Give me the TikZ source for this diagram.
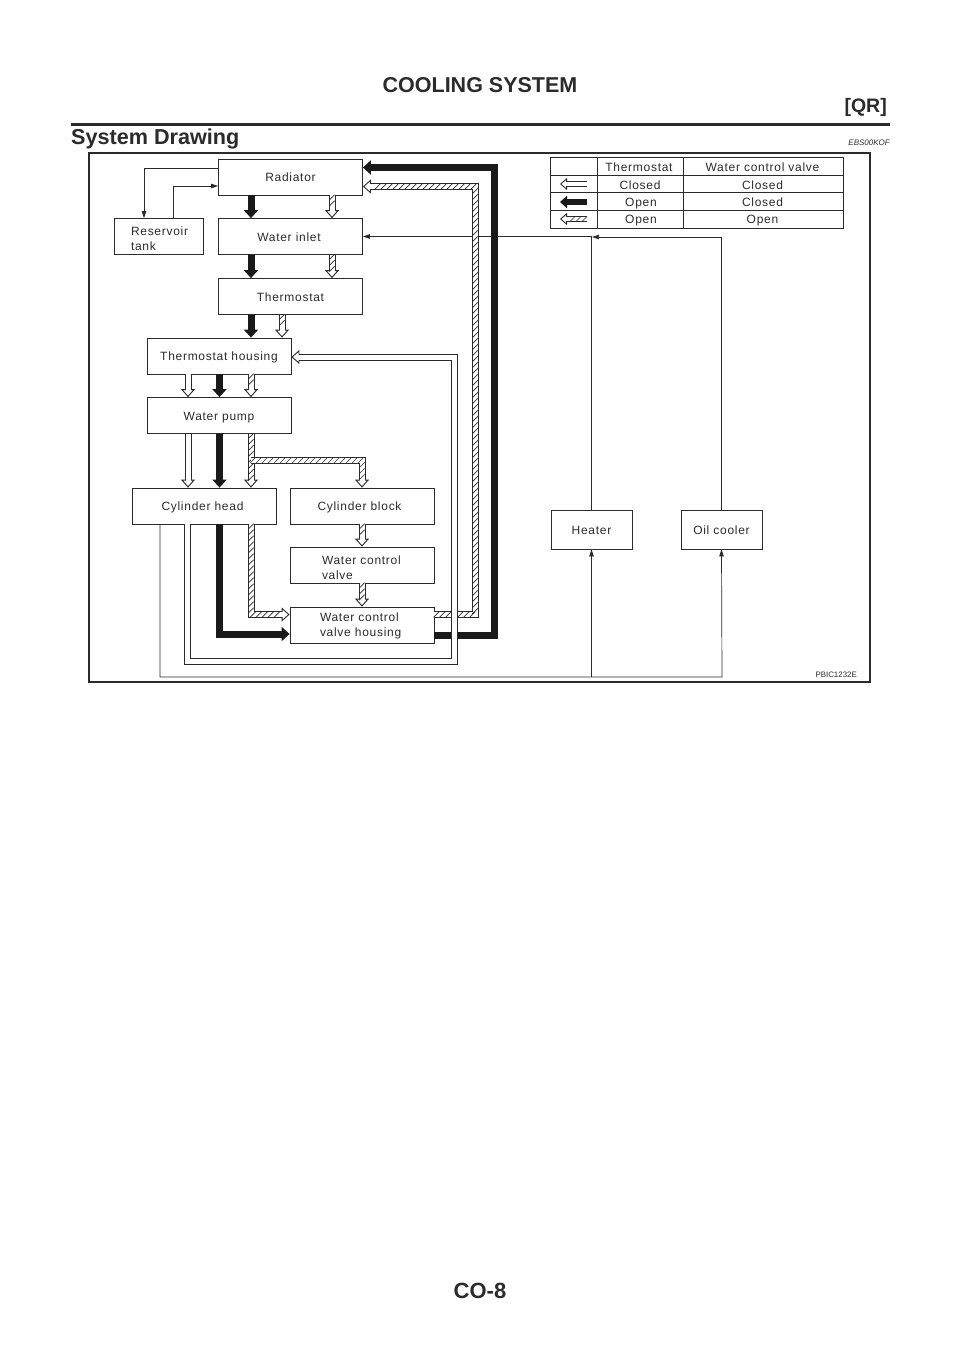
\documentclass[tikz,border=0pt]{standalone}
\usepackage{fontspec}
\setmainfont{Liberation Sans}
\newfontfamily\labfont[LetterSpace=6]{Liberation Sans}
\usetikzlibrary{arrows.meta,decorations.markings,calc}
\definecolor{ink}{HTML}{2B2B2B}
\definecolor{solid}{HTML}{1A1A1A}
\tikzset{
  multibox/.style={draw=ink,line width=.8pt,fill=white,minimum width=144pt,minimum height=36pt,inner sep=0pt,font=\labfont\fontsize{12}{15}\selectfont,text=ink},
  box/.style={multibox,text height=9pt,text depth=0pt},
  smallbox/.style={box,minimum width=81pt,minimum height=39pt},
  cell/.style={inner sep=0pt,font=\labfont\fontsize{12}{13}\selectfont,text=ink,text height=9pt,text depth=0pt},
  thinline/.style={draw=ink,line width=.7pt,line join=miter},
  thinarrow/.style={thinline,-{Triangle[length=7pt,width=4.5pt]}},
  blackflow/.style n args={3}{draw=solid,line width=#1,line join=miter,-{Triangle[length=#3,width=#2]}},
  hollowflow/.style n args={3}{draw=ink,line width=#1,line join=miter,
    -{Triangle[open,fill=white,length=#3,width=#2,line width=.9pt]},
    postaction={draw=white,line width=#1-2pt,arrows=-,shorten >=#3-1.5pt}},
  hatchflow/.style n args={3}{hollowflow={#1}{#2}{#3},
    postaction={decorate,decoration={markings,
      mark=between positions 2pt and -#3-1pt step 6pt with {\pgftransformresetnontranslations
        \draw[draw=ink,line width=.6pt,arrows=-] (-#1/2+.8pt,-#1/2+.8pt)--(#1/2-.8pt,#1/2-.8pt);}}}},
  solidarrow/.style={blackflow={7pt}{14pt}{8pt}},
  hollowarrow/.style={hollowflow={7pt}{14pt}{8pt}},
  hatcharrow/.style={hatchflow={7pt}{14pt}{8pt}},
}
\begin{document}
\begin{tikzpicture}[x=1pt,y=-1pt]
\useasboundingbox (0,0) rectangle (960,1358);
% page furniture
\node[inner sep=0pt,font=\bfseries\fontsize{21.5}{24}\selectfont,text=ink] (pagehead) at (480,85) {COOLING SYSTEM};
\node[inner sep=0pt,anchor=east,font=\bfseries\fontsize{19.5}{24}\selectfont,text=ink] (qr) at (887,107) {[QR]};
\coordinate (ruleL) at (71,124); \coordinate (ruleR) at (890,124);
\draw[draw=ink,line width=3pt] (ruleL) -- (ruleR);
\node[inner sep=0pt,anchor=west,font=\bfseries\fontsize{21.6}{26}\selectfont,text=ink] (title) at (71,138.5) {System Drawing};
\node[inner sep=0pt,anchor=east,font=\itshape\fontsize{8}{9}\selectfont,text=ink] (code) at (890,143) {EBS00KOF};
\node[inner sep=0pt,font=\bfseries\fontsize{22}{26}\selectfont,text=ink] (pagefoot) at (480,1291) {CO-8};
\node[draw=ink,line width=1.6pt,minimum width=781pt,minimum height=529pt,inner sep=0pt] (frame) at (479.5,417.5) {};
\node[inner sep=0pt,anchor=east,font=\fontsize{7.9}{9}\selectfont,text=ink] (pbic) at (857,675) {PBIC1232E};

% boxes
\node[box] (rad) at (290.5,177) {Radiator};
\node[box] (inlet) at (290.5,236.5) {Water inlet\kern3pt};
\node[box] (therm) at (290.5,296.5) {Thermostat};
\node[box] (thhouse) at (219,356) {Thermostat housing};
\node[box] (pump) at (219,415.5) {Water pump};
\node[box] (chead) at (204.5,506) {Cylinder head\kern4pt};
\node[box] (cblock) at (362,506) {Cylinder block\kern5pt};
\node[multibox,text width=80pt,align=left] (valve) at (362,565) {\rule{0pt}{14.6pt}Water control\\valve};
\node[multibox,text width=84pt,align=left] (vhouse) at (362,625) {\rule{0pt}{10pt}Water control\\valve housing};
\node[multibox,minimum width=89pt,text width=55pt,align=left] (tank) at (158.5,236.5) {\rule{0pt}{12.6pt}Reservoir\\tank};
\node[smallbox] (heater) at (591.5,529.5) {Heater};
\node[smallbox] (oil) at (721.5,529.5) {Oil cooler};

% thin connectors
\draw[thinarrow] (rad.west |- 0,168) -| (144,0 |- tank.north);
\draw[thinarrow] (173,0 |- tank.north) |- (rad.west |- 0,186);
\draw[thinarrow] (heater.north) |- (inlet.east);
\draw[thinarrow] (oil.north) |- (592,237);
\draw[thinarrow] (160,0 |- chead.south) |- (722,677) -- (oil.south);
\draw[thinarrow] (heater.south |- 0,677) -- (heater.south);

% main return flows
\draw[hatcharrow] (vhouse.east |- 0,614.5) -| (475,186.5) -- (rad.east |- 0,186.5);
\draw[solidarrow] (vhouse.east |- 0,635) -| (494,167.5) -- (rad.east |- 0,167.5);
\draw[hollowarrow] (187.5,0 |- chead.south) |- (454.5,661) |- (thhouse.east |- 0,357);

% vertical flows
\draw[solidarrow] (251,0 |- rad.south) -- (251,0 |- inlet.north);
\draw[hatcharrow] (332,0 |- rad.south) -- (332,0 |- inlet.north);
\draw[solidarrow] (251,0 |- inlet.south) -- (251,0 |- therm.north);
\draw[hatcharrow] (332,0 |- inlet.south) -- (332,0 |- therm.north);
\draw[solidarrow] (251,0 |- therm.south) -- (251,0 |- thhouse.north);
\draw[hatcharrow] (282,0 |- therm.south) -- (282,0 |- thhouse.north);
\draw[hollowarrow] (188,0 |- thhouse.south) -- (188,0 |- pump.north);
\draw[solidarrow] (219.5,0 |- thhouse.south) -- (219.5,0 |- pump.north);
\draw[hatcharrow] (251,0 |- thhouse.south) -- (251,0 |- pump.north);
\draw[hollowarrow] (188,0 |- pump.south) -- (188,0 |- chead.north);
\draw[solidarrow] (219.5,0 |- pump.south) -- (219.5,0 |- chead.north);
\draw[hatcharrow] (251,0 |- pump.south) -- (251,0 |- chead.north);
\draw[hatcharrow] (251,460) -| (362,0 |- cblock.north);
\draw[hatcharrow] (362,0 |- cblock.south) -- (362,0 |- valve.north);
\draw[hatcharrow] (362,0 |- valve.south) -- (362,0 |- vhouse.north);
\draw[solidarrow] (219.5,0 |- chead.south) |- (vhouse.west |- 0,634);
\draw[hatcharrow] (251,0 |- chead.south) |- (vhouse.west |- 0,614.5);

% legend table
\node[draw=ink,line width=.8pt,minimum width=293pt,minimum height=70.5pt,inner sep=0pt] (legend) at (696.5,192.75) {};
\foreach \yy in {175,192.5,210} \draw[draw=ink,line width=.8pt] (legend.west |- 0,\yy) -- (legend.east |- 0,\yy);
\foreach \xx in {597,683} \draw[draw=ink,line width=.8pt] (\xx,0 |- legend.north) -- (\xx,0 |- legend.south);
\node[cell] (h1) at (639,166.5) {Thermostat};
\node[cell] (h2) at (762.5,166.5) {Water control valve};
\node[cell] (a1) at (640,185) {Closed};
\node[cell] (b1) at (762.5,185) {Closed};
\node[cell] (a2) at (641,202) {Open};
\node[cell] (b2) at (762.5,202) {Closed};
\node[cell] (a3) at (641,219) {Open};
\node[cell] (b3) at (762.5,219) {Open};
\coordinate (k1r) at (586.5,184); \coordinate (k1l) at (560,184);
\coordinate (k2r) at (586.5,202); \coordinate (k2l) at (560,202);
\coordinate (k3r) at (586.5,219); \coordinate (k3l) at (560,219);
\draw[hollowflow={6pt}{12pt}{7pt}] (k1r) -- (k1l);
\draw[blackflow={6pt}{12pt}{7pt}] (k2r) -- (k2l);
\draw[hatchflow={6pt}{12pt}{7pt}] (k3r) -- (k3l);
\end{tikzpicture}
\end{document}
